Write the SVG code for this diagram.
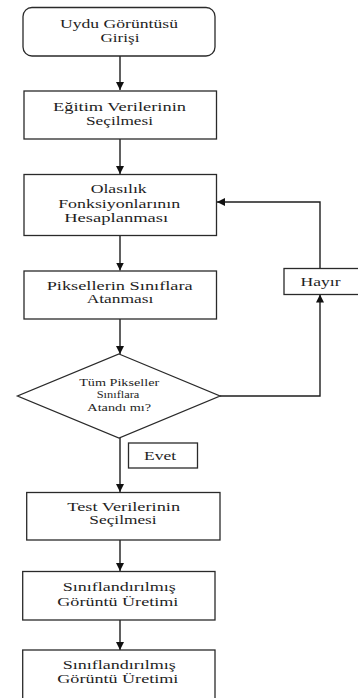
<svg xmlns="http://www.w3.org/2000/svg" width="358" height="698" viewBox="0 0 358 698">
<style>
.box{fill:#fff;stroke:#2a2a2a;stroke-width:1.3}
.t{font-family:'Liberation Serif','DejaVu Serif',serif;font-size:13.5px;fill:#1e1e1e;text-anchor:middle}
.s{font-family:'Liberation Serif','DejaVu Serif',serif;font-size:10.5px;fill:#1e1e1e;text-anchor:middle}
.c{fill:none;stroke:#1e1e1e;stroke-width:1.4}
</style>
<defs>
<marker id="ah" markerUnits="userSpaceOnUse" markerWidth="9" markerHeight="9" refX="8" refY="4" orient="auto">
<path d="M0,0 L8,4 L0,8 z" fill="#111"/>
</marker>
</defs>
<rect width="358" height="698" fill="#fff"/>
<g id="connectors">
<line class="c" x1="120" y1="56" x2="120" y2="90" marker-end="url(#ah)"/>
<line class="c" x1="120" y1="139" x2="120" y2="174" marker-end="url(#ah)"/>
<line class="c" x1="120" y1="236" x2="120" y2="270.5" marker-end="url(#ah)"/>
<line class="c" x1="120" y1="319" x2="120" y2="354" marker-end="url(#ah)"/>
<line class="c" x1="120" y1="438" x2="120" y2="492" marker-end="url(#ah)"/>
<line class="c" x1="120" y1="540" x2="120" y2="571" marker-end="url(#ah)"/>
<line class="c" x1="120" y1="620" x2="120" y2="650" marker-end="url(#ah)"/>
<polyline class="c" points="220,396 320,396 320,294.5" marker-end="url(#ah)"/>
<polyline class="c" points="320,268.5 320,202 217,202" marker-end="url(#ah)"/>
</g>
<g id="n1">
<rect class="box" x="23" y="7.5" width="192" height="48.5" rx="9"/>
<text class="t" x="119" y="28" textLength="118" lengthAdjust="spacingAndGlyphs">Uydu Görüntüsü</text>
<text class="t" x="120" y="42" textLength="39" lengthAdjust="spacingAndGlyphs">Girişi</text>
</g>
<g id="n2">
<rect class="box" x="24" y="91" width="192.5" height="48"/>
<text class="t" x="119.5" y="110.5" textLength="133" lengthAdjust="spacingAndGlyphs">Eğitim Verilerinin</text>
<text class="t" x="119.5" y="124.5" textLength="67" lengthAdjust="spacingAndGlyphs">Seçilmesi</text>
</g>
<g id="n3">
<rect class="box" x="24" y="174.5" width="192.5" height="61"/>
<text class="t" x="118.7" y="193" textLength="56" lengthAdjust="spacingAndGlyphs">Olasılık</text>
<text class="t" x="119.2" y="207.5" textLength="122" lengthAdjust="spacingAndGlyphs">Fonksiyonlarının</text>
<text class="t" x="116.2" y="222" textLength="104" lengthAdjust="spacingAndGlyphs">Hesaplanması</text>
</g>
<g id="n4">
<rect class="box" x="24" y="271" width="192.5" height="48"/>
<text class="t" x="119.7" y="289.5" textLength="146" lengthAdjust="spacingAndGlyphs">Piksellerin Sınıflara</text>
<text class="t" x="120" y="303" textLength="66.7" lengthAdjust="spacingAndGlyphs">Atanması</text>
</g>
<g id="n5">
<polygon class="box" points="119,354 220,396 119,438 17.5,396"/>
<text class="s" x="119.2" y="386" textLength="80" lengthAdjust="spacingAndGlyphs">Tüm Pikseller</text>
<text class="s" x="118" y="398" textLength="42.7" lengthAdjust="spacingAndGlyphs">Sınıflara</text>
<text class="s" x="119.2" y="410.5" textLength="63.7" lengthAdjust="spacingAndGlyphs">Atandı mı?</text>
</g>
<g id="hayir">
<rect class="box" x="284" y="268.5" width="80" height="26"/>
<text class="t" x="320.5" y="285.5" textLength="40" lengthAdjust="spacingAndGlyphs">Hayır</text>
</g>
<g id="evet">
<rect class="box" x="128.5" y="443" width="69" height="25"/>
<text class="t" x="160" y="460" textLength="32" lengthAdjust="spacingAndGlyphs">Evet</text>
</g>
<g id="n6">
<rect class="box" x="26.7" y="492.5" width="193.3" height="47.5"/>
<text class="t" x="123.7" y="510.5" textLength="112.7" lengthAdjust="spacingAndGlyphs">Test Verilerinin</text>
<text class="t" x="123" y="524" textLength="67.3" lengthAdjust="spacingAndGlyphs">Seçilmesi</text>
</g>
<g id="n7">
<rect class="box" x="22.7" y="571.5" width="192.3" height="48.5"/>
<text class="t" x="119.2" y="591" textLength="113" lengthAdjust="spacingAndGlyphs">Sınıflandırılmış</text>
<text class="t" x="117.8" y="605.5" textLength="121" lengthAdjust="spacingAndGlyphs">Görüntü Üretimi</text>
</g>
<g id="n8">
<rect class="box" x="22.7" y="650" width="192.3" height="60"/>
<text class="t" x="119.2" y="669" textLength="113" lengthAdjust="spacingAndGlyphs">Sınıflandırılmış</text>
<text class="t" x="117.8" y="683" textLength="121" lengthAdjust="spacingAndGlyphs">Görüntü Üretimi</text>
</g>
</svg>
